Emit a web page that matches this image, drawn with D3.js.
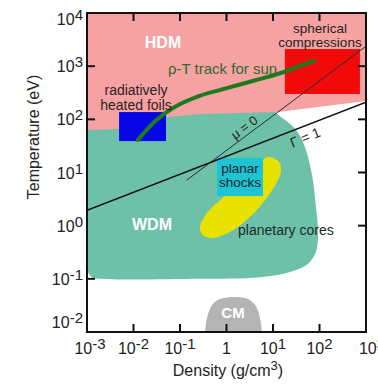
<!DOCTYPE html>
<html>
<head>
<meta charset="utf-8">
<script src="https://cdn.jsdelivr.net/npm/d3@7"></script>
<style>
  body { margin: 0; background: #fff; }
  svg { display: block; font-family: "Liberation Sans", Arial, Helvetica, sans-serif; }
</style>
</head>
<body>
<svg id="chart" width="378" height="385"></svg>
<script>
// ---- data (log10 density g/cm^3, log10 temperature eV) ----
const xTickValues = [1e-3, 1e-2, 1e-1, 1, 1e1, 1e2, 1e3];
const xTickLabels = [["10","-3"],["10","-2"],["10","-1"],["1",""],["10","1"],["10","2"],["10","3"]];
const yTickValues = [1e4, 1e3, 1e2, 1e1, 1e0, 1e-1, 1e-2];
const yTickLabels = [["10","4"],["10","3"],["10","2"],["10","1"],["10","0"],["10","-1"],["10","-2"]];
const leftTickValues = [1e3, 1e2, 1e-1];
const rightTickValues = [1e3, 1e2, 1e1, 1e0];
const innerTickValues = [1e-2, 1e-1, 1, 1e1, 1e2];

const hdmRegion = [[-3,4],[3,4],[3,2.345],[1.11,2.14],[0.29,2.12],[-0.57,2.10],[-1.30,2.04],[-2.31,1.82],[-3,1.80]];
const wdmRegion = [[-3,2.27],[0.76,2.27],[0.98,2.18],[1.15,2.06],[1.37,1.91],[1.56,1.72],[1.71,1.42],[1.84,0.95],[1.92,0.39],[1.97,-0.18],[1.92,-0.50],[1.75,-0.72],[1.37,-0.87],[0.72,-0.97],[-0.57,-1.00],[-2.72,-1.00],[-2.89,-0.97],[-2.98,-0.87],[-3,-0.74]];
const cmRegion = [[-0.46,-2.05],[-0.46,-2.0],[-0.42,-1.74],[-0.31,-1.49],[-0.14,-1.38],[0.18,-1.34],[0.46,-1.38],[0.63,-1.51],[0.72,-1.74],[0.76,-2.0],[0.76,-2.05]];
const planetaryCores = [[0.89,1.29],[1.13,1.20],[1.17,1.01],[1.06,0.78],[0.785,0.43],[0.44,0.11],[0.075,-0.12],[-0.29,-0.23],[-0.51,-0.18],[-0.57,-0.02],[-0.42,0.24],[-0.14,0.48],[0.29,0.82],[0.68,1.14]];
const sunTrack = [[-1.91,1.61],[-1.50,1.99],[-1.16,2.21],[-0.58,2.44],[-0.15,2.55],[0.64,2.74],[1.24,2.89],[1.56,3.00],[1.89,3.10]];

const foilsRho = [0.0049, 0.050], foilsT = [39, 137];
const sphericalRho = [18, 740], sphericalT = [300, 2100];
const shocksRho = [0.625, 6.1], shocksT = [3.6, 18.7];

const gammaLine = [[1e-3, 1.95], [1e3, 210]];
const muLine = [[0.14, 7.2], [950, 2290]];

// ---- layout ----
const L = 87, R = 366, T = 13, B = 332;
const svg = d3.select("#chart");
const x = d3.scaleLog().domain([1e-3, 1e3]).range([L, R]);
const y = d3.scaleLog().domain([1e-2, 1e4]).range([B, T]);
const px = d => x(Math.pow(10, d[0]));
const py = d => y(Math.pow(10, d[1]));

svg.append("defs").append("clipPath").attr("id","plot")
  .append("rect").attr("x",L).attr("y",T).attr("width",R-L).attr("height",B-T);
const g = svg.append("g").attr("clip-path","url(#plot)");

const lin = d3.line().x(px).y(py);
const smoothClosed = d3.line().x(px).y(py).curve(d3.curveCatmullRomClosed.alpha(0.5));
const smooth = d3.line().x(px).y(py).curve(d3.curveCatmullRom.alpha(0.5));

// WDM (drawn first; HDM covers its upper edge)
g.append("path").attr("d", smoothClosed(wdmRegion)).attr("fill", "#6dc1a9");
// HDM
g.append("path").attr("d", lin(hdmRegion) + "Z").attr("fill", "#f6a2a3");
// CM
g.append("path").attr("d", smooth(cmRegion) + "Z").attr("fill", "#b4b4b4");
// planetary cores
g.append("path").attr("d", smoothClosed(planetaryCores)).attr("fill", "#e8e200");

// boxes
function box(rho, t, color) {
  g.append("rect")
    .attr("x", x(rho[0])).attr("y", y(t[1]))
    .attr("width", x(rho[1]) - x(rho[0])).attr("height", y(t[0]) - y(t[1]))
    .attr("fill", color);
}
box(foilsRho, foilsT, "#0707e6");
box(sphericalRho, sphericalT, "#f20a0a");
box(shocksRho, shocksT, "#1cc4d4");

// lines
const ll = d3.line().x(d => x(d[0])).y(d => y(d[1]));
g.append("path").attr("d", ll(muLine)).attr("stroke","#2a2a2a").attr("stroke-width",1).attr("fill","none");
g.append("path").attr("d", ll(gammaLine)).attr("stroke","#111").attr("stroke-width",1.6).attr("fill","none");

// sun track
g.append("path").attr("d", smooth(sunTrack)).attr("stroke","#1e7a1e").attr("stroke-width",4)
  .attr("fill","none").attr("stroke-linecap","round");

// ticks (inward)
const tickG = svg.append("g").attr("stroke","#111").attr("stroke-width",2);
const tl = 8;
innerTickValues.forEach(v => {
  tickG.append("line").attr("x1",x(v)).attr("x2",x(v)).attr("y1",B).attr("y2",B-tl);
  tickG.append("line").attr("x1",x(v)).attr("x2",x(v)).attr("y1",T).attr("y2",T+tl);
});
leftTickValues.forEach(v => {
  tickG.append("line").attr("x1",L).attr("x2",L+tl).attr("y1",y(v)).attr("y2",y(v));
});
rightTickValues.forEach(v => {
  tickG.append("line").attr("x1",R).attr("x2",R-tl).attr("y1",y(v)).attr("y2",y(v));
});

// frame
svg.append("rect").attr("x",L).attr("y",T).attr("width",R-L).attr("height",B-T)
  .attr("fill","none").attr("stroke","#111").attr("stroke-width",2);

// tick labels
function supLabel(sel, base, exp, expSize) {
  sel.append("tspan").text(base);
  if (exp) sel.append("tspan").attr("dy", -5).attr("font-size", expSize).text(exp);
}
xTickValues.forEach((v, i) => {
  let shift = i === 0 ? 3 : (i === xTickValues.length - 1 ? 6 : 0);
  const t = svg.append("text").attr("x", x(v) + shift).attr("y", 354)
    .attr("text-anchor","middle").attr("font-size",16).attr("fill","#222");
  supLabel(t, xTickLabels[i][0], xTickLabels[i][1], 15);
});
yTickValues.forEach((v, i) => {
  let off = i === 0 ? 12 : (i === yTickValues.length - 1 ? -4 : 6);
  const t = svg.append("text").attr("x", 83).attr("y", y(v) + off)
    .attr("text-anchor","end").attr("font-size",16).attr("fill","#222");
  supLabel(t, yTickLabels[i][0], yTickLabels[i][1], 15);
});

// axis titles
svg.append("text").attr("transform","translate(39,137) rotate(-90)")
  .attr("text-anchor","middle").attr("font-size",16).attr("fill","#222").text("Temperature (eV)");
const xt = svg.append("text").attr("x",228).attr("y",376).attr("text-anchor","middle")
  .attr("font-size",16).attr("fill","#222");
xt.append("tspan").text("Density (g/cm");
xt.append("tspan").attr("dy",-6).attr("font-size",13).text("3");
xt.append("tspan").attr("dy",6).text(")");

// annotations
function label(txt, xx, yy, opts = {}) {
  return svg.append("text").attr("x", xx).attr("y", yy)
    .attr("text-anchor", opts.anchor || "middle")
    .attr("font-size", opts.size || 14)
    .attr("font-weight", opts.weight || "normal")
    .attr("fill", opts.fill || "#222")
    .attr("transform", opts.rotate ? `rotate(${opts.rotate},${xx},${yy})` : null)
    .text(txt);
}
label("HDM", 163, 48, {size:16, weight:"bold", fill:"#fff"});
label("WDM", 152, 230, {size:16, weight:"bold", fill:"#fff"});
label("CM", 233, 318, {size:15, weight:"bold", fill:"#fff"});
label("radiatively", 136, 95, {fill:"#2a2222"});
label("heated foils", 136, 110, {fill:"#2a2222"});
label("spherical", 320, 33, {size:13.5});
label("compressions", 320, 47, {size:13.5});
label("ρ-T track for sun", 168, 74, {anchor:"start", size:15, fill:"#2e6a2e"});
label("planar", 240, 173, {size:13.5, fill:"#112233"});
label("shocks", 240, 187, {size:13.5, fill:"#112233"});
label("planetary cores", 238, 235, {anchor:"start", fill:"#1a2a2a"});
label("μ = 0", 247, 131, {size:13, rotate:-37, fill:"#222"});
label("Γ = 1", 307, 142, {size:14, rotate:-22, fill:"#222"});
</script>
</body>
</html>
